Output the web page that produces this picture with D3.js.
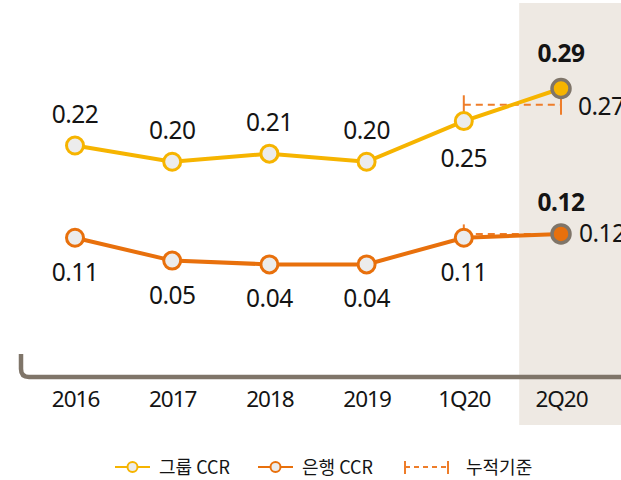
<!DOCTYPE html>
<html>
<head>
<meta charset="utf-8">
<script src="https://cdn.jsdelivr.net/npm/d3@7/dist/d3.min.js"></script>
<style>
  html, body { margin: 0; padding: 0; background: #ffffff; }
  svg { display: block; }
  text { fill: #141414; }
  .num { font-family: "Noto Sans", sans-serif; letter-spacing: -0.5px; }
  .kr { font-family: "Noto Sans CJK KR", "Noto Sans", sans-serif; }
</style>
</head>
<body>
<svg id="chart" width="621" height="480"></svg>
<script>
// ---- data ----
const categories = ["2016", "2017", "2018", "2019", "1Q20", "2Q20"];
const groupCCR = [0.22, 0.20, 0.21, 0.20, 0.25, 0.29];
const bankCCR = [0.11, 0.05, 0.04, 0.04, 0.11, 0.12];
const cumulativeCategories = ["1Q20", "2Q20"];
const groupCumulative = 0.27;
const bankCumulative = 0.12;
const legendLabels = ["그룹 CCR", "은행 CCR", "누적기준"];

// ---- styles ----
const W = 621, H = 480;
const yellow = "#f6b400", orange = "#e8700c", dashOrange = "#ee7d2a";
const markerFill = "#ececec", grayStroke = "#7f7569", bandFill = "#eee9e3";
const numSize = 24.5;

const svg = d3.select("#chart");

const x = d3.scalePoint().domain(categories).range([75, 561]);
const yGroup = d3.scaleLinear().domain([0.20, 0.29]).range([161.8, 88.5]);
const yBank = d3.scaleLinear().domain([0.04, 0.12]).range([264.4, 233.9]);

const step = x.step();
// highlighted band for latest period
const bandX = x("2Q20") - step * 0.43;
svg.append("rect")
  .attr("x", bandX).attr("y", 3)
  .attr("width", W - bandX).attr("height", 422)
  .attr("fill", bandFill);

// axis: tick labels via d3 axis, domain drawn as rounded bracket
const axisY = 377;
const xAxis = d3.axisBottom(x).tickSize(0).tickPadding(0);
const ax = svg.append("g").attr("transform", `translate(0,${axisY})`).call(xAxis);
ax.select(".domain").remove();
ax.selectAll("text")
  .attr("class", "num")
  .attr("font-size", 22.5)
  .attr("font-family", null)
  .attr("fill", "#141414")
  .attr("y", 30)
  .attr("dy", null)
  .style("letter-spacing", "-1px");

svg.append("path")
  .attr("d", `M21,354 V${axisY - 8} Q21,${axisY} 29,${axisY} H${W}`)
  .attr("fill", "none")
  .attr("stroke", grayStroke)
  .attr("stroke-width", 4.5);

// cumulative markers
function cumulative(yScale, value) {
  const g = svg.append("g");
  const x0 = x(cumulativeCategories[0]), x1 = x(cumulativeCategories[1]);
  const yy = yScale(value);
  g.append("line").attr("x1", x0).attr("x2", x1).attr("y1", yy).attr("y2", yy)
    .attr("stroke", dashOrange).attr("stroke-width", 2).attr("stroke-dasharray", "7,5");
  [x0, x1].forEach(xx => {
    g.append("line").attr("x1", xx).attr("x2", xx).attr("y1", yy - 9.5).attr("y2", yy + 10)
      .attr("stroke", dashOrange).attr("stroke-width", 2);
  });
}
cumulative(yGroup, groupCumulative);
cumulative(yBank, bankCumulative);

// series
function series(values, yScale, color, labelPos) {
  const g = svg.append("g");
  const last = values.length - 1;
  const line = d3.line().x((d, i) => x(categories[i])).y(d => yScale(d));
  g.append("path").datum(values).attr("d", line)
    .attr("fill", "none").attr("stroke", color).attr("stroke-width", 4);
  g.selectAll("circle").data(values).join("circle")
    .attr("cx", (d, i) => x(categories[i]))
    .attr("cy", d => yScale(d))
    .attr("r", (d, i) => i === last ? 9 : 8.5)
    .attr("fill", (d, i) => i === last ? color : markerFill)
    .attr("stroke", (d, i) => i === last ? grayStroke : color)
    .attr("stroke-width", (d, i) => i === last ? 3.5 : 3);
  g.selectAll("text.val").data(values).join("text")
    .attr("class", "val num")
    .attr("x", (d, i) => x(categories[i]))
    .attr("y", (d, i) => yScale(d) + labelPos(i))
    .attr("text-anchor", "middle")
    .attr("font-size", numSize)
    .attr("font-weight", (d, i) => i === last ? "bold" : "normal")
    .text(d => d.toFixed(2));
}
series(groupCCR, yGroup, yellow, i => (i === 4 ? 45.5 : (i === 5 ? -27 : -22.5)));
series(bankCCR, yBank, orange, i => (i === 5 ? -23 : 43));

// cumulative value labels (right of last point)
svg.append("text").attr("class", "num").attr("x", x("2Q20") + 17).attr("y", yGroup(groupCumulative) + 10.5)
  .attr("font-size", numSize).text(groupCumulative.toFixed(2));
svg.append("text").attr("class", "num").attr("x", x("2Q20") + 18).attr("y", yBank(bankCumulative) + 8)
  .attr("font-size", numSize).text(bankCumulative.toFixed(2));

// legend
const ly = 467;
const lg = svg.append("g");
[[115, yellow, legendLabels[0]], [258, orange, legendLabels[1]]].forEach(([lx, c, t]) => {
  lg.append("line").attr("x1", lx).attr("x2", lx + 35).attr("y1", ly).attr("y2", ly)
    .attr("stroke", c).attr("stroke-width", 2);
  lg.append("circle").attr("cx", lx + 17.5).attr("cy", ly).attr("r", 5)
    .attr("fill", markerFill).attr("stroke", c).attr("stroke-width", 2);
  lg.append("text").attr("class", "kr").attr("x", lx + 44).attr("y", ly + 7).attr("font-size", 18)
    .attr("fill", "#333").text(t);
});
lg.append("line").attr("x1", 405).attr("x2", 448).attr("y1", ly).attr("y2", ly)
  .attr("stroke", dashOrange).attr("stroke-width", 2).attr("stroke-dasharray", "5,4");
[405, 448].forEach(xx => lg.append("line").attr("x1", xx).attr("x2", xx)
  .attr("y1", ly - 6).attr("y2", ly + 7).attr("stroke", dashOrange).attr("stroke-width", 2));
lg.append("text").attr("class", "kr").attr("x", 466).attr("y", ly + 7).attr("font-size", 18)
  .attr("fill", "#333").text(legendLabels[2]);
</script>
</body>
</html>
